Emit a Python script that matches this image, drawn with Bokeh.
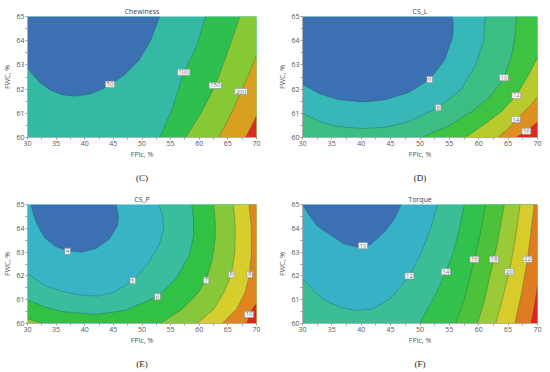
from bokeh.plotting import figure
from bokeh.layouts import column, row
from bokeh.models import FixedTicker, LinearAxis, Range1d, Title
from bokeh.core.properties import value
from bokeh.embed import file_html
from bokeh.resources import INLINE

X_RANGE = (30, 70)
Y_RANGE = (60, 65)
X_TICKS = [30, 35, 40, 45, 50, 55, 60, 65, 70]
X_MINOR = [32.5, 37.5, 42.5, 47.5, 52.5, 57.5, 62.5, 67.5]
Y_TICKS = [60, 61, 62, 63, 64, 65]
Y_MINOR = [60.5, 61.5, 62.5, 63.5, 64.5]
X_LABEL = "FPlc, %"
Y_LABEL = "FWC, %"

# ---------------- (C) Chewiness ----------------
CHEW_LEVELS = [50, 100, 150, 200, 250]
CHEW_X = [
    [30, 32, 34, 36, 38.3, 41, 44, 47, 49.5, 51.5, 53.1],
    [53.1, 54.2, 55.3, 57.3, 59.6, 61.1],
    [57.6, 60.3, 62.8, 64.9, 67.1],
    [63.4, 65.6, 67.3, 68.8, 70],
    [68.1, 69.1, 70],
]
CHEW_Y = [
    [62.85, 62.3, 61.95, 61.77, 61.7, 61.8, 62.1, 62.6, 63.2, 64.0, 65],
    [60, 60.6, 61.2, 62.7, 63.8, 65],
    [60, 61.0, 62.15, 63.5, 65],
    [60, 61.0, 61.9, 62.7, 63.4],
    [60, 60.45, 60.9],
]
CHEW_CLOSE = ["TL", "TR BR", "TR BR", "BR", "BR"]
CHEW_FILL = ["#3b71b3", "#2fbf4e", "#87c934", "#d9a020", "#e02b1f"]
CHEW_BASE = "#34b9a4"
CHEW_LAB_X = [44.4, 57.3, 62.8, 67.3]
CHEW_LAB_Y = [62.2, 62.7, 62.15, 61.9]
CHEW_LAB_T = ["50", "100", "150", "200"]

# ---------------- (D) CS_L ----------------
CSL_LEVELS = [6, 8, 10, 12, 14, 16]
CSL_X = [
    [30, 33, 36, 40.1, 44, 48, 51.65, 54.2, 55.5, 55.7, 55.5],
    [30, 33, 36, 40, 44, 48, 53.1, 57, 59.5, 60.8, 61.1],
    [50.3, 55, 59, 62, 64.3, 65.6, 66.2, 66.4],
    [57.75, 61, 64, 66.4, 68.5, 70],
    [63.2, 65, 66.3, 68.3, 70],
    [66.3, 68.1, 70],
]
CSL_Y = [
    [62.19, 61.8, 61.57, 61.47, 61.55, 61.85, 62.4, 63.2, 64.1, 64.6, 65],
    [61.01, 60.65, 60.45, 60.37, 60.42, 60.65, 61.23, 62.0, 63.0, 64.0, 65],
    [60, 60.5, 61.1, 61.7, 62.47, 63.4, 64.2, 65],
    [60, 60.55, 61.1, 61.74, 62.6, 63.3],
    [60, 60.35, 60.74, 61.2, 61.67],
    [60, 60.26, 60.64],
]
CSL_CLOSE = ["TL", "TR BR BL", "TR BR", "BR", "BR", "BR"]
CSL_FILL = ["#3b71b3", "#3bbd84", "#3ec241", "#b9cb2c", "#de8f21", "#e1261e"]
CSL_BASE = "#38b7b8"
CSL_LAB_X = [51.65, 53.1, 64.3, 66.4, 66.3, 68.1]
CSL_LAB_Y = [62.4, 61.23, 62.47, 61.74, 60.74, 60.26]
CSL_LAB_T = ["6", "8", "10", "12", "14", "16"]

# ---------------- (E) CS_P ----------------
CSP_LEVELS = [4, 5, 6, 7, 7, 8, 9, 10]
CSP_X = [
    [30.6, 31.0, 31.6, 33, 34.8, 37, 39.5, 42, 44.3, 45.7, 45.9, 45.5],
    [30, 33, 36, 39, 42.1, 45, 48.4, 51, 53, 53.8, 53.5, 52.9],
    [30, 33, 36, 42, 47, 52.7, 56, 58.3, 59.0, 59.0, 58.7],
    [30, 32.7],
    [53.2, 57, 59.5, 61.2, 62.3, 62.8, 62.8, 62.5],
    [59.6, 62.5, 64.3, 65.6, 66.2, 66.3, 66.0],
    [64.0, 66.5, 68.0, 68.8, 69.1, 69.1, 68.7],
    [68.3, 69.0, 70],
]
CSP_Y = [
    [65, 64.6, 64.2, 63.6, 63.25, 63.05, 63.0, 63.15, 63.55, 64.1, 64.5, 65],
    [62.1, 61.6, 61.35, 61.2, 61.15, 61.3, 61.8, 62.5, 63.3, 64.0, 64.6, 65],
    [61.0, 60.7, 60.5, 60.38, 60.55, 61.12, 61.9, 62.9, 63.7, 64.4, 65],
    [60.2, 60],
    [60, 60.6, 61.2, 61.82, 62.7, 63.6, 64.3, 65],
    [60, 60.6, 61.3, 62.06, 63.0, 64.0, 65],
    [60, 60.6, 61.3, 62.06, 63.0, 64.0, 65],
    [60, 60.5, 60.85],
]
CSP_CLOSE = ["", "TR BR BL", "TR BR BL", "BL", "TR BR", "TR BR", "TR BR", "BR"]
CSP_FILL = ["#3b71b3", "#3abd9c", "#30c145", "#86c83a", "#86c83a",
            "#d5ce2c", "#e0851f", "#e1221d"]
CSP_BASE = "#38b4c6"
CSP_LAB_X = [37.0, 48.4, 52.7, 61.2, 65.6, 68.8, 68.7]
CSP_LAB_Y = [63.04, 61.8, 61.12, 61.82, 62.06, 62.06, 60.38]
CSP_LAB_T = ["4", "5", "6", "7", "8", "9", "10"]

# ---------------- (F) Torque ----------------
TRQ_LEVELS = [10, 12, 14, 16, 18, 20, 22, 24]
TRQ_X = [
    [30, 31, 32.5, 34.9, 37, 39.2, 41.5, 44, 45.7, 46.8],
    [30, 32, 34, 36.5, 39.2, 42, 45, 48.2, 50.3, 51.8, 53.0],
    [49.9, 51.5, 53, 54.4, 55.7, 56.7, 57.55],
    [56.1, 57.5, 58.5, 59.25, 60.3, 61.2],
    [59.8, 61.0, 61.8, 62.6, 63.5, 64.35],
    [62.9, 64.2, 65.2, 66.2, 67.05],
    [66.15, 67.3, 68.3, 69.45],
    [68.9, 69.5, 70],
]
TRQ_Y = [
    [65, 64.6, 64.1, 63.7, 63.35, 63.22, 63.3, 63.85, 64.4, 65],
    [61.88, 61.35, 60.95, 60.68, 60.54, 60.62, 61.05, 62.0, 63.0, 64.0, 65],
    [60, 60.7, 61.4, 62.17, 63.0, 64.0, 65],
    [60, 61.0, 61.9, 62.7, 63.8, 65],
    [60, 61.0, 61.9, 62.7, 63.8, 65],
    [60, 61.2, 62.17, 63.5, 65],
    [60, 61.3, 62.7, 65],
    [60, 60.8, 61.6],
]
TRQ_CLOSE = ["", "TR BR BL", "TR BR", "TR BR", "TR BR", "TR BR", "TR BR", "BR"]
TRQ_FILL = ["#3b71b3", "#3bbd95", "#33c14d", "#4bc23a", "#9aca35",
            "#d7cc2a", "#e07c20", "#e2231d"]
TRQ_BASE = "#37b1c6"
TRQ_LAB_X = [40.3, 48.2, 54.4, 59.25, 62.6, 65.2, 68.3]
TRQ_LAB_Y = [63.27, 62.0, 62.17, 62.7, 62.7, 62.17, 62.7]
TRQ_LAB_T = ["10", "12", "14", "16", "18", "20", "22"]

FONT = "Open Sans"
CORNERS = {
    "TL": (X_RANGE[0], Y_RANGE[1]),
    "TR": (X_RANGE[1], Y_RANGE[1]),
    "BR": (X_RANGE[1], Y_RANGE[0]),
    "BL": (X_RANGE[0], Y_RANGE[0]),
}


def panel(title, letter, cx, cy, closes, fills, base, lx, ly, lt,
          width, height, top, bottom, left, right):
    p = figure(width=width, height=height, output_backend="svg",
               toolbar_location=None, x_range=Range1d(*X_RANGE),
               y_range=Range1d(*Y_RANGE), min_border_top=top,
               min_border_bottom=bottom, min_border_left=left,
               min_border_right=right)
    p.outline_line_color = None
    p.background_fill_color = base
    p.border_fill_color = "white"
    p.xgrid.visible = False
    p.ygrid.visible = False

    t = Title(text=title, align="center", text_font=FONT,
              text_font_size="7px", text_font_style="normal",
              text_color="#444444", standoff=1)
    p.add_layout(t, "above")

    pxs, pys = [], []
    for xs, ys, cl in zip(cx, cy, closes):
        px, py = list(xs), list(ys)
        for c in cl.split():
            px.append(CORNERS[c][0])
            py.append(CORNERS[c][1])
        pxs.append(px)
        pys.append(py)
    p.patches(xs=pxs, ys=pys, fill_color=fills, line_color=None)
    p.multi_line(xs=cx, ys=cy, line_color="#2b4a4a", line_alpha=0.45,
                 line_width=0.7)
    p.text(x=lx, y=ly, text=lt, text_font=value(FONT),
           text_font_size="6px", text_color="#666666", text_align="center",
           text_baseline="middle", background_fill_color="white",
           border_line_color="#9a9a9a", border_line_width=0.7, padding=1)

    for ax, ticks, minor, lab in ((p.xaxis[0], X_TICKS, X_MINOR, X_LABEL),
                                   (p.yaxis[0], Y_TICKS, Y_MINOR, Y_LABEL)):
        ax.ticker = FixedTicker(ticks=ticks, minor_ticks=minor)
        ax.axis_label = lab
        ax.axis_label_text_font = FONT
        ax.axis_label_text_font_size = "7px"
        ax.axis_label_text_font_style = "normal"
        ax.axis_label_text_color = "#555555"
        ax.axis_label_standoff = 1
        ax.major_label_text_font = FONT
        ax.major_label_text_font_size = "7px"
        ax.major_label_text_color = "#555555"
        ax.major_label_standoff = 1
        ax.axis_line_color = "#b0b0b0"
        ax.major_tick_line_color = "#999999"
        ax.minor_tick_line_color = "#999999"
        ax.major_tick_in = 0
        ax.major_tick_out = 2
        ax.minor_tick_in = 0
        ax.minor_tick_out = 2

    la = LinearAxis(ticker=FixedTicker(ticks=[]), axis_label=letter,
                    axis_line_color=None, major_tick_line_color=None,
                    minor_tick_line_color=None,
                    major_label_text_font_size="0px",
                    major_tick_out=0, major_tick_in=0, major_label_standoff=0,
                    axis_label_standoff=11,
                    axis_label_text_font="Liberation Serif",
                    axis_label_text_font_size="9px",
                    axis_label_text_font_style="normal",
                    axis_label_text_color="#222222")
    p.add_layout(la, "below")
    return p


pC = panel("Chewiness", "(C)", CHEW_X, CHEW_Y, CHEW_CLOSE, CHEW_FILL, CHEW_BASE,
           CHEW_LAB_X, CHEW_LAB_Y, CHEW_LAB_T, 275, 192, 16, 55, 27, 19)
pD = panel("CS_L", "(D)", CSL_X, CSL_Y, CSL_CLOSE, CSL_FILL, CSL_BASE,
           CSL_LAB_X, CSL_LAB_Y, CSL_LAB_T, 275, 192, 15, 53, 27, 13)
pE = panel("CS_P", "(E)", CSP_X, CSP_Y, CSP_CLOSE, CSP_FILL, CSP_BASE,
           CSP_LAB_X, CSP_LAB_Y, CSP_LAB_T, 275, 180, 12, 49, 27, 19)
pF = panel("Torque", "(F)", TRQ_X, TRQ_Y, TRQ_CLOSE, TRQ_FILL, TRQ_BASE,
           TRQ_LAB_X, TRQ_LAB_Y, TRQ_LAB_T, 275, 180, 9, 47, 26, 13)

layout = column(row(pC, pD, spacing=0), row(pE, pF, spacing=0), spacing=0)
open("out.html", "w").write(file_html(layout, INLINE))
